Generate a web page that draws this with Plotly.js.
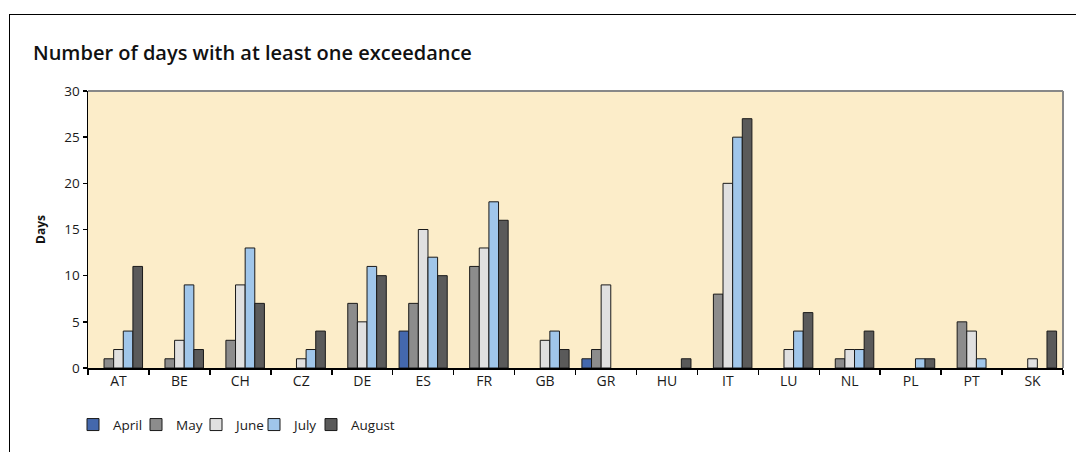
<!DOCTYPE html>
<html>
<head>
<meta charset="utf-8">
<script src="https://cdn.plot.ly/plotly-3.0.1.min.js"></script>
<style>
html,body{margin:0;padding:0;background:#fff;overflow:hidden;width:1076px;height:452px;}
#frame{position:absolute;left:9px;top:14px;width:1200px;height:600px;border-left:1px solid #000;border-top:1.5px solid #000;}
#chart{position:absolute;left:0;top:0;width:1076px;height:452px;}
</style>
</head>
<body>
<div id="frame"></div>
<div id="chart"></div>
<script>
const countries = ["AT","BE","CH","CZ","DE","ES","FR","GB","GR","HU","IT","LU","NL","PL","PT","SK"];
const april  = [0,0,0,0,0,4,0,0,1,0,0,0,0,0,0,0];
const may    = [1,1,3,0,7,7,11,0,2,0,8,0,1,0,5,0];
const june   = [2,3,9,1,5,15,13,3,9,0,20,2,2,0,4,1];
const july   = [4,9,13,2,11,12,18,4,0,0,25,4,2,1,1,0];
const august = [11,2,7,4,10,10,16,2,0,1,27,6,4,1,0,4];
const seriesNames = ["April","May","June","July","August"];
const seriesColors = ["#4468ad","#8c8c8c","#e0e0e0","#a0c6ea","#5a5a5a"];
const seriesValues = [april, may, june, july, august];

const FONT = '"Open Sans", Lato, sans-serif';
const legendIds = ['legend','legend2','legend3','legend4','legend5'];
// left pixel of each legend swatch
const legendSwatchPx = [87, 150, 210, 268, 325];

const traces = seriesValues.map((vals, i) => ({
  type: 'bar',
  name: seriesNames[i],
  x: countries,
  // zero-day values are not drawn as bars (no outline at the baseline)
  y: vals.map(v => v === 0 ? null : v),
  marker: {color: seriesColors[i], line: {color: '#1a1a1a', width: 1}},
  legend: legendIds[i],
  hoverinfo: 'x+y+name'
}));

const layout = {
  width: 1076, height: 452,
  margin: {l: 88, r: 13, t: 91, b: 84},
  paper_bgcolor: 'rgba(0,0,0,0)',
  plot_bgcolor: '#fcedc9',
  font: {family: FONT, size: 13.5, color: '#1a1a1a'},
  title: {
    text: 'Number of days with at least one exceedance',
    font: {family: FONT, size: 20, color: '#111', weight: 600},
    x: 33/1076, xanchor: 'left', xref: 'container',
    y: 1 - 53/452, yanchor: 'middle', yref: 'container'
  },
  barmode: 'group',
  bargap: 0.21,
  bargroupgap: 0,
  xaxis: {
    type: 'category',
    range: [-0.5, 15.5],
    showline: true, linecolor: '#000', linewidth: 1.5,
    ticks: 'outside', tickson: 'boundaries', ticklen: 5, tickcolor: '#000', tickwidth: 1.5,
    showgrid: false, zeroline: false,
    tickfont: {size: 14, color: '#1a1a1a'},
    fixedrange: true
  },
  yaxis: {
    range: [0, 30],
    tickvals: [0,5,10,15,20,25,30],
    showline: true, linecolor: '#000', linewidth: 1.5,
    ticks: 'outside', ticklen: 4, tickcolor: '#000', tickwidth: 1.5,
    showgrid: false, zeroline: false,
    tickfont: {size: 13.5, color: '#1a1a1a'},
    title: {text: '<b>Days</b>', font: {size: 12, color: '#111'}, standoff: 16},
    fixedrange: true
  },
  shapes: [
    {type: 'line', xref: 'paper', yref: 'paper', x0: 0, x1: 1, y0: 1, y1: 1, line: {color: '#888', width: 2}},
    {type: 'line', xref: 'paper', yref: 'paper', x0: 1, x1: 1, y0: 0, y1: 1, line: {color: '#888', width: 2}}
  ],
  showlegend: true
};

legendIds.forEach((id, i) => {
  layout[id] = {
    orientation: 'h',
    x: (legendSwatchPx[i] - 14 - 88) / 975, xanchor: 'left',
    y: -0.205, yanchor: 'middle',
    font: {size: 13.5, color: '#1a1a1a'},
    itemwidth: 30,
    bgcolor: 'rgba(0,0,0,0)'
  };
});

Plotly.newPlot('chart', traces, layout, {displayModeBar: false, staticPlot: true});
</script>
</body>
</html>
